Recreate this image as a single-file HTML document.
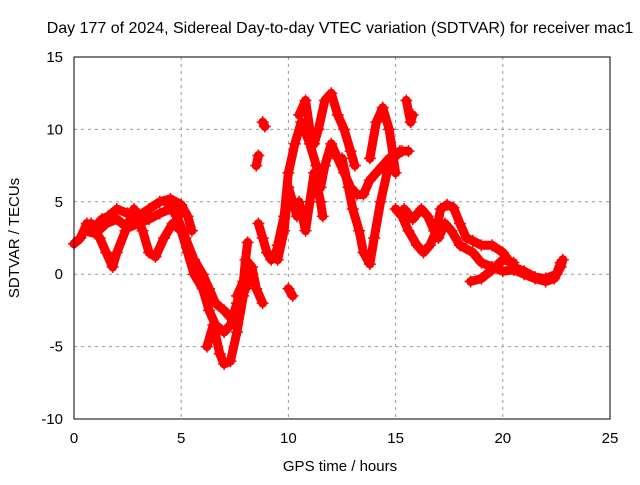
<!DOCTYPE html>
<html><head><meta charset="utf-8"><style>
body{margin:0;background:#fff}
svg text{font-family:"Liberation Sans",sans-serif;font-size:15px;fill:#000}
</style></head><body>
<svg id="chart" width="640" height="480">
<text x="340" y="33" text-anchor="middle" style="font-size:16px">Day 177 of 2024, Sidereal Day-to-day VTEC variation (SDTVAR) for receiver mac1</text>
<text transform="translate(19,238) rotate(-90)" text-anchor="middle">SDTVAR / TECUs</text>
<text x="340" y="471" text-anchor="middle">GPS time / hours</text>
<g id="grid"></g><g id="ticks"></g><g id="marks"></g>
<rect x="74" y="57" width="536" height="362" fill="none" stroke="#000" stroke-width="1"/>
</svg>
<script>
const xTicks=[0,5,10,15,20,25];
const yTicks=[-10,-5,0,5,10,15];
const traceA=[[0,2.1],[0.3,2.5],[0.6,3.5],[1,3.3],[1.3,3.8],[1.6,4.0],[2,4.5],[2.5,4.2],[3,4.0],[3.5,4.5],[4,5],[4.5,5.2],[5,4.8],[5.3,4.0],[5.5,3.0]];
const traceA2=[[0.5,3.0],[1,2.8],[1.5,3.5],[2,3.8],[2.5,3.2],[3,3.5],[3.5,3.8],[4,4.2],[4.5,4.5],[5,4.2]];
const traceB=[[0.8,3.5],[1.2,2.5],[1.5,1.5],[1.8,0.5],[2,1.5],[2.4,3],[2.8,4.5],[3.2,3],[3.5,1.5],[3.8,1.2],[4.2,2.5],[4.6,3.5],[5,3]];
const traceC=[[4.3,5],[4.8,4],[5.2,2.5],[5.6,1],[6,0],[6.3,-1],[6.6,-2],[7,-2.5],[7.3,-3],[7.6,-2.5],[8,-1],[8.3,0]];
const traceD=[[5,3],[5.3,1.5],[5.6,0],[6,-1],[6.3,-2.5],[6.6,-3.5],[7,-4],[7.3,-3.5],[7.6,-2],[7.9,-0.5]];
const traceE=[[6.2,-5],[6.5,-3.5],[6.8,-5.5],[7,-6.2],[7.3,-6],[7.6,-4],[7.9,-1.5],[8,1],[8.1,2.2]];
const traceF=[[7.6,-1.5],[7.9,-0.5],[8,1],[8.3,0.5],[8.5,-1],[8.8,-2]];
const traceG=[[8.6,3.5],[8.8,2.5],[9,1.5],[9.2,1],[9.4,1.5],[9.6,2.2]];
const traceH=[[10,-1],[10.2,-1.5]];
const traceI=[[8.8,10.5],[8.9,10.2]];
const traceJ=[[8.5,7.5],[8.6,8.2]];
const traceK=[[9.5,2],[9.8,4],[10,7],[10.3,9],[10.6,10.5],[11,9],[11.3,7.5],[11.5,6],[11.7,7.5],[12,9],[12.3,8],[12.6,7],[12.9,6],[13.2,5.5],[13.5,5.5],[13.8,6.5],[14.1,7],[14.4,7.5],[14.7,8],[15,8.2],[15.3,8.5],[15.6,8.5]];
const traceL=[[10.5,11],[10.8,12],[11,10],[11.2,9],[11.4,10],[11.7,12],[12,12.5],[12.3,11],[12.6,10],[12.9,8.5],[13.1,7.5]];
const traceM=[[12.5,8],[12.8,6],[13,4.5],[13.3,3],[13.5,1.5],[13.8,0.7],[14,2.5],[14.3,5],[14.6,7],[14.9,8],[15.2,8.5]];
const traceN=[[13.8,8],[14.1,10.5],[14.4,11.5],[14.7,10],[15,7]];
const traceO=[[10.5,5],[10.8,3],[11,5],[11.2,7],[11.5,5],[11.6,4]];
const traceP=[[9.5,1],[9.8,3],[10,6],[10.2,5],[10.4,4]];
const traceQ=[[15.5,12],[15.7,10.5],[15.8,11]];
const traceR=[[15,4.5],[15.3,4],[15.6,3],[16,2],[16.3,1.5],[16.6,2],[16.9,3],[17.1,4.5],[17.4,4.8],[17.7,4.6],[18,3.5],[18.3,2.5],[18.6,2.3],[19,2],[19.5,2],[20,1.5],[20.5,0.5],[21,0.2],[21.5,-0.2],[22,-0.3],[22.5,0],[22.7,0.8]];
const traceS=[[15.4,4.5],[15.8,3.8],[16.2,4.5],[16.5,4],[16.8,3],[17,2.5],[17.3,3.5],[17.6,3],[18,2],[18.6,1.5],[19,0.8],[19.5,0.5],[20,0.2],[20.5,0.3],[21,0],[21.5,-0.3],[22,-0.5],[22.4,-0.3],[22.7,0.5],[22.8,1]];
const traceT=[[18.5,-0.5],[19,-0.3],[19.5,0.3],[20,1],[20.5,0.8]];
const traces=[traceA,traceA2,traceB,traceC,traceD,traceE,traceF,traceG,traceH,traceI,traceJ,traceK,traceL,traceM,traceN,traceO,traceP,traceQ,traceR,traceS,traceT];

const NS="http://www.w3.org/2000/svg";
const X=h=>74+h*536/25;
const Y=v=>419-(v+10)*362/25;
function mk(tag,parent){const e=document.createElementNS(NS,tag);parent.appendChild(e);return e;}
const grid=document.getElementById('grid'),ticks=document.getElementById('ticks'),marks=document.getElementById('marks');
xTicks.forEach(t=>{
  if(t>0&&t<25){const l=mk('line',grid);l.setAttribute('x1',X(t));l.setAttribute('x2',X(t));l.setAttribute('y1',57);l.setAttribute('y2',419);l.setAttribute('stroke','#999');l.setAttribute('stroke-dasharray','3,4');
  
  }
  const tx=mk('text',ticks);tx.setAttribute('x',X(t));tx.setAttribute('y',443);tx.setAttribute('text-anchor','middle');tx.textContent=t;
  
  
});
yTicks.forEach(t=>{
  if(t>-10&&t<15){const l=mk('line',grid);l.setAttribute('x1',74);l.setAttribute('x2',610);l.setAttribute('y1',Y(t));l.setAttribute('y2',Y(t));l.setAttribute('stroke','#999');l.setAttribute('stroke-dasharray','3,4');
  
  }
  const tx=mk('text',ticks);tx.setAttribute('x',63);tx.setAttribute('y',Y(t)+5);tx.setAttribute('text-anchor','end');tx.textContent=t;
  
  
});
traces.forEach(tr=>{
  const p=mk('polyline',marks);
  p.setAttribute('points',tr.map(d=>X(d[0])+','+Y(d[1])).join(' '));
  p.setAttribute('fill','none');p.setAttribute('stroke','#f00');p.setAttribute('stroke-width','9');p.setAttribute('stroke-linejoin','round');p.setAttribute('stroke-linecap','round');
  
  
  tr.forEach(d=>{
    const m=mk('path',marks);const x=X(d[0]),y=Y(d[1]);
    m.setAttribute('d',`M${x-6},${y}H${x+6}M${x},${y-6}V${y+6}`);m.setAttribute('stroke','#f00');m.setAttribute('stroke-width','1.5');
    
    
  });
});
</script>
</body></html>
